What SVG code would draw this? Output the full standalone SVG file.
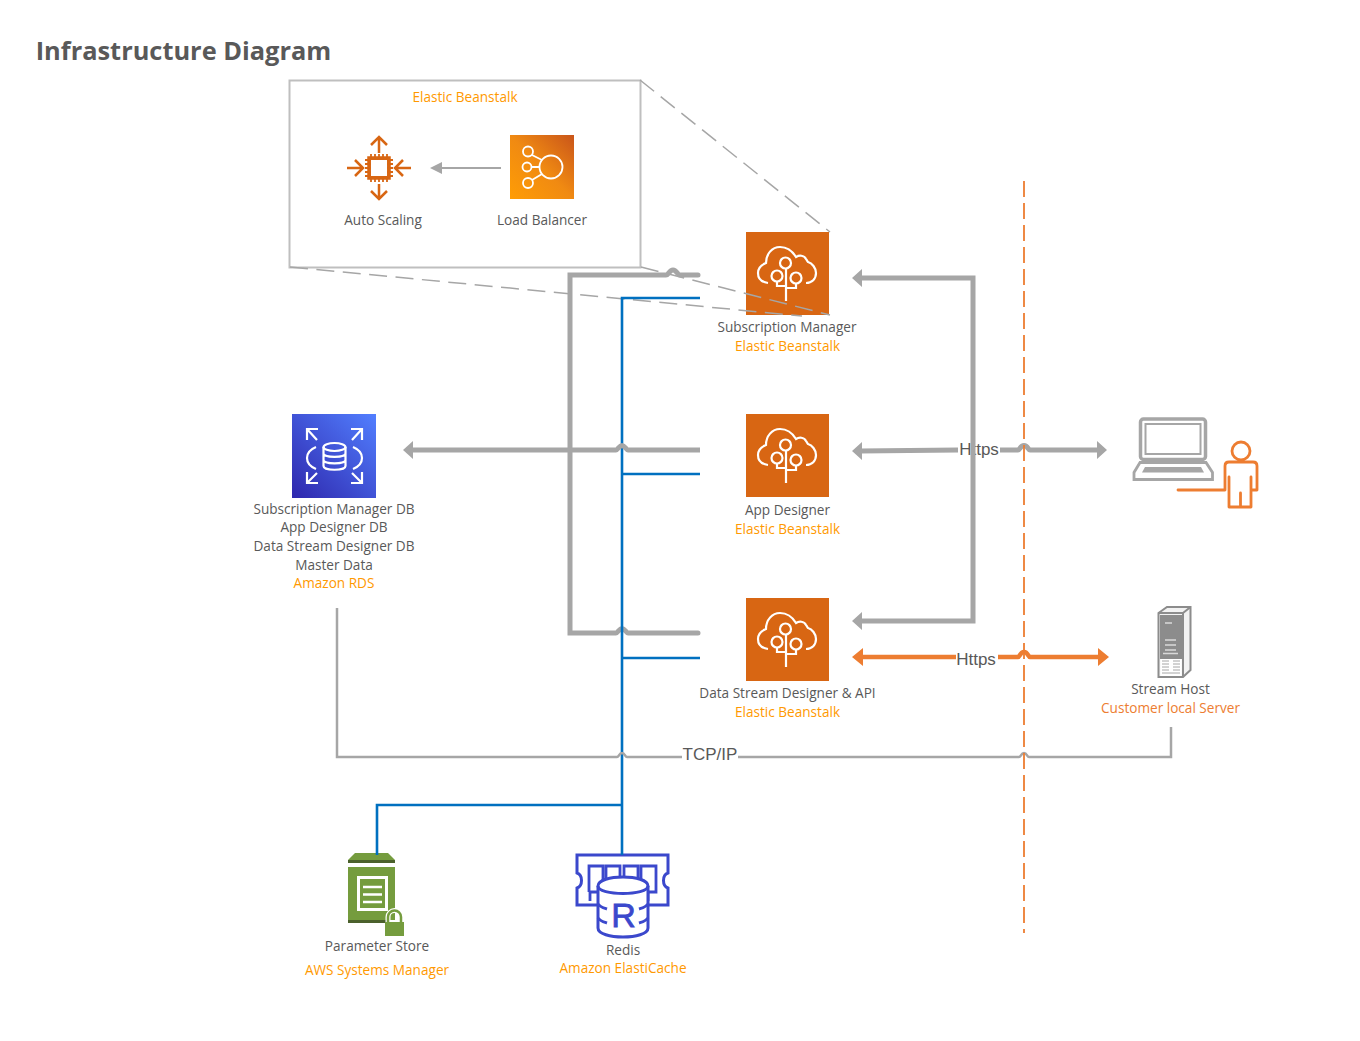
<svg xmlns="http://www.w3.org/2000/svg" width="1360" height="1041" viewBox="0 0 1360 1041">
<style>
text{font-family:"Open Sans","Noto Sans","Liberation Sans",sans-serif;font-size:13.600px;fill:#595959;text-anchor:middle}
.o{fill:#ff9900}.c{fill:#ed7d31}
.a{font-family:"Liberation Sans",Arial,sans-serif;font-size:17px}
.l{fill:none;stroke-linejoin:miter}
.g5{stroke:#a6a6a6;stroke-width:5}
.g2{stroke:#a6a6a6;stroke-width:2.5}
.b{stroke:#0070c0;stroke-width:2.600}
.or{stroke:#ed7d31;stroke-width:4.5}
.d{stroke:#a6a6a6;stroke-width:1.5;stroke-dasharray:18 8.5}
.ic{fill:none;stroke:#fff;stroke-width:2.2}
</style>
<defs>
<linearGradient id="lb" x1="0" y1="1" x2="1" y2="0"><stop offset="0" stop-color="#ff9d05"/><stop offset=".5" stop-color="#f08a12"/><stop offset="1" stop-color="#c9551a"/></linearGradient>
<linearGradient id="rds" x1="0" y1="1" x2="1" y2="0"><stop offset="0" stop-color="#2e27ad"/><stop offset="1" stop-color="#527fff"/></linearGradient>
<g id="bean">
<rect width="83" height="83" fill="#d86613"/>
<path class="ic" d="M22 51C15 50 12 46 12 41C12 36 15 33 20 31C20 22 26 15 34 15C42 15 47 20 50 25C53 23 58 23 60 27C61 28 61 29 62 30C66 31 70 36 70 41C70 47 66 51 60 51"/>
<circle class="ic" cx="39.500" cy="31" r="5.5"/><circle class="ic" cx="31" cy="44" r="5.5"/><circle class="ic" cx="50" cy="46" r="5.5"/>
<path class="ic" d="M40 36.500V69M31 49.500V54H40M50 51.500V56H40"/>
</g>
</defs>
<text x="183.500" y="59.500" style="font-size:25.400px;font-weight:700;fill:#595959">Infrastructure Diagram</text>

<g id="beanstalk-group">
<rect x="289.500" y="80.500" width="351" height="187" fill="none" stroke="#bfbfbf" stroke-width="2"/>
<text class="o" x="465" y="102">Elastic Beanstalk</text>
</g>
<g id="auto-scaling">
<g fill="none" stroke="#d86613" stroke-width="2.500">
<rect x="369" y="158" width="20" height="20" stroke-width="3.500"/>
<path d="M371 154V182M375 154V182M379 154V182M383 154V182M387 154V182M365 160H393M365 164H393M365 168H393M365 172H393M365 176H393" stroke-width="1.800"/>
<rect x="371" y="160" width="16" height="16" fill="#fff" stroke="none"/>
<path d="M379 153V138M371 145L379 137L387 145M379 184V199M371 191L379 199L387 191M363 168H347M355 160L363 168L355 176M395 168H411M403 160L395 168L403 176"/>
</g>
<text x="383" y="225">Auto Scaling</text>
</g>
<g id="load-balancer">
<rect x="510" y="135" width="64" height="64" fill="url(#lb)"/>
<g fill="none" stroke="#fff" stroke-width="1.800"><circle cx="551" cy="167" r="11.500"/><circle cx="528" cy="151.500" r="5"/><circle cx="527" cy="167" r="4.500"/><circle cx="528" cy="183" r="5"/><path d="M532 155L542 160M531.500 167H539.500M532 180L542 174"/></g>
<text x="542" y="225">Load Balancer</text>
</g>
<g id="subscription-manager">
<use href="#bean" x="746" y="232"/>
<text x="787" y="332">Subscription Manager</text>
<text class="o" x="787.500" y="351">Elastic Beanstalk</text>
</g>
<g id="app-designer">
<use href="#bean" x="746" y="414"/>
<text x="787.500" y="515">App Designer</text>
<text class="o" x="787.500" y="534">Elastic Beanstalk</text>
</g>
<g id="data-stream-designer">
<use href="#bean" x="746" y="598"/>
<text x="787.500" y="698">Data Stream Designer &amp; API</text>
<text class="o" x="787.500" y="717">Elastic Beanstalk</text>
</g>
<g id="rds">
<rect x="292" y="414" width="84" height="84" fill="url(#rds)"/>
<g fill="none" stroke="#fff" stroke-width="2.200">
<ellipse cx="334.500" cy="447" rx="11" ry="4"/>
<path d="M323.500 447V466C323.500 471 345.500 471 345.500 466V447M323.500 453.500C323.500 458 345.500 458 345.500 453.500M323.500 460C323.500 464.500 345.500 464.500 345.500 460"/>
<path d="M316 447C304 452 304 464 316 469M353 447C365 452 365 464 353 469"/>
<path d="M307 440V429H318M307 429L317 440M351 429H362V440M362 429L352 440M307 472V483H318M307 483L317 473M351 483H362V472M362 483L352 473"/>
</g>
<text x="334" y="514">Subscription Manager DB</text>
<text x="334" y="532">App Designer DB</text>
<text x="334" y="551">Data Stream Designer DB</text>
<text x="334" y="570">Master Data</text>
<text class="o" x="334" y="588">Amazon RDS</text>
</g>
<g id="user">
<g fill="none" stroke="#a6a6a6">
<rect x="1140.500" y="419" width="65" height="40.500" rx="3" stroke-width="3.500"/>
<rect x="1145.500" y="424" width="55" height="30" stroke-width="2"/>
<path d="M1140 462.500L1134 472.500V479.500H1212.500V472.500L1206 462.500Z" stroke-width="2.800"/>
</g>
<path fill="#a6a6a6" d="M1145 467H1201L1204 472.500H1142Z"/>
<g fill="none" stroke="#ed7d31" stroke-width="2.800" stroke-linecap="round" stroke-linejoin="round">
<circle cx="1241" cy="451" r="9"/>
<path d="M1178 490H1225V466Q1225 462 1229 462H1253Q1257 462 1257 466V490H1251M1229 477V507H1251V477M1240.500 493V507"/>
</g>
</g>
<g id="stream-host">
<path fill="#f2f2f2" stroke="#8c8c8c" stroke-width="2" d="M1158.500 613L1167 607H1190.500V670L1183 677H1158.500Z"/>
<path fill="none" stroke="#8c8c8c" stroke-width="2" d="M1158.500 613H1183V677M1183 613L1190.500 607"/>
<rect x="1160" y="615" width="22" height="44" fill="#8c8c8c"/>
<rect x="1160.500" y="659" width="21" height="17" fill="#fff"/>
<path stroke="#d9d9d9" stroke-width="1.500" d="M1165 640H1176M1165 645H1176M1165 650H1176M1163 653.500H1178M1165 623H1172"/>
<path stroke="#a6a6a6" stroke-width="1" d="M1162 661H1169M1173 661H1180M1162 664H1169M1173 664H1180M1162 667H1169M1173 667H1180M1162 670H1169M1173 670H1180M1162 673H1180"/>
<text x="1170.500" y="694">Stream Host</text>
<text class="c" x="1170.500" y="713">Customer local Server</text>
</g>
<g id="parameter-store">
<path fill="#759c3e" d="M348 860L355 853H388L395 860Z"/>
<rect x="348" y="860" width="47" height="3" fill="#4b612c"/>
<rect x="348" y="867" width="47" height="53" fill="#759c3e"/>
<rect x="348" y="920" width="38" height="3" fill="#4b612c"/>
<rect x="358.500" y="877.500" width="28" height="32" fill="none" stroke="#fff" stroke-width="3"/>
<path stroke="#fff" stroke-width="2.500" d="M363 887H382M363 894.500H382M363 902H382"/>
<path d="M388 923V917A6.500 6.500 0 0 1 401 917V923" fill="none" stroke="#fff" stroke-width="5"/>
<path d="M388 923V917A6.500 6.500 0 0 1 401 917V923" fill="none" stroke="#759c3e" stroke-width="2.500"/>
<rect x="385" y="922" width="19" height="14" fill="#759c3e"/>
<text x="377" y="951">Parameter Store</text>
<text class="o" x="377" y="975">AWS Systems Manager</text>
</g>
<g id="redis">
<g fill="none" stroke="#3b48cc" stroke-width="3">
<path d="M610 905H577V888C583 886 583 875 577 873V855H668V873C662 875 662 886 668 888V905H648"/>
<path d="M590 901V892H598M589 892V866H603V880M606 880V866H620V878M624 878V866H638V878M641 880V866H656V892H648V901" stroke-width="2.800"/>
<path d="M598 886C598 874 648 874 648 886V928C648 940 598 940 598 928Z" fill="#fff"/>
<path d="M598 886C598 896 648 896 648 886"/>
<path d="M598 904C600 907 604 908 607 909M598 918C600 921 604 922 607 923M648 904C646 907 642 908 639 909M648 918C646 921 642 922 639 923"/>
</g>
<text x="623.500" y="927" style="font-size:34px;font-family:'Liberation Sans',sans-serif;fill:#3b48cc;stroke:#3b48cc;stroke-width:.8">R</text>
<text x="623" y="955">Redis</text>
<text class="o" x="623" y="973">Amazon ElastiCache</text>
</g>

<g id="connectors">
<path class="l d" d="M640 80L830 232M641 267L830 315M290 267L802 316"/>
<path class="l g5" d="M698 275H680C677 275 677 270 673 270C669 270 669 275 666 275H570V633H616C618 633 619 628.500 622 628.500C625 628.500 626 633 628 633H698" stroke-linecap="round"/>
<path class="l b" d="M700 298H622V805M700 474H622M700 658H622M622 805V855M622 805H377V855"/>
<path class="l g5" d="M412 450H616C618 450 619 445.500 622 445.500C625 445.500 626 450 628 450H700"/>
<path fill="#a6a6a6" d="M403 450L413 441V459Z"/>
<text class="a" x="979" y="455">Https</text>
<text class="a" x="976" y="665">Https</text>
<text class="a" x="710" y="760">TCP/IP</text>
<path class="l g5" d="M861 278H973V621H861"/>
<path fill="#a6a6a6" d="M852 278L862 269V287ZM852 621L862 612V630Z"/>
<path class="l g5" d="M860 451L958 450M1000 450H1018C1020 450 1020 445.500 1024 445.500C1028 445.500 1028 450 1030 450H1098"/>
<path fill="#a6a6a6" d="M852 451L862 442V460ZM1107 450L1097 441V459Z"/>
<path class="l or" d="M860 657H956M998 657H1018C1020 657 1020 652 1024 652C1028 652 1028 657 1030 657H1100"/>
<path fill="#ed7d31" d="M852 657L863 648V666ZM1109 657L1098 648V666Z"/>
<path class="l g2" d="M337 608V757H617C619 757 619 753 622 753C625 753 625 757 627 757H682M738 757H1019C1021 757 1021 753 1024 753C1027 753 1027 757 1029 757H1171V727"/>
<path class="l" stroke="#ed7d31" stroke-width="1.800" stroke-dasharray="16 6" d="M1024 181V933"/>
<path class="l" stroke="#a6a6a6" stroke-width="2" d="M501 168H440"/>
<path fill="#a6a6a6" d="M430 168L442 162V174Z"/>
</g>
</svg>
